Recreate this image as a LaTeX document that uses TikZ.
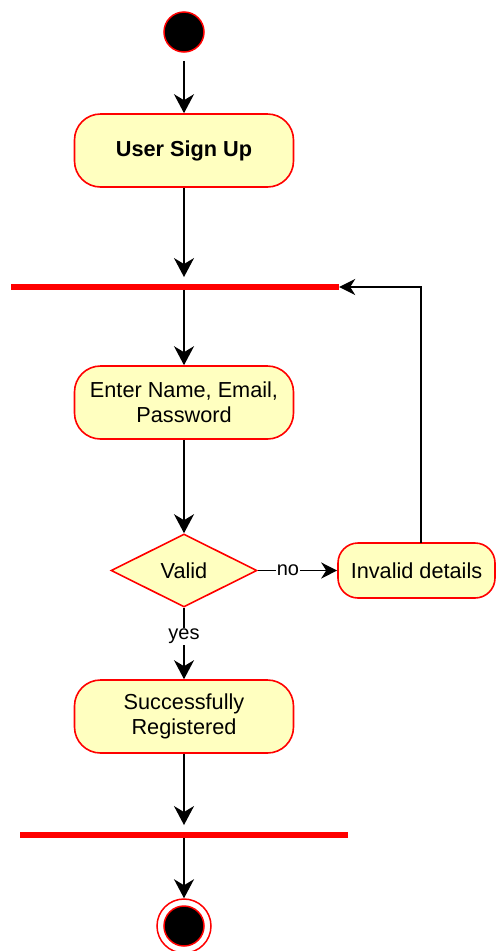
\documentclass[tikz,border=0pt]{standalone}
\usepackage{fontspec}
\setmainfont{Liberation Sans}
\usetikzlibrary{shapes.geometric,arrows.meta,calc}
\definecolor{actfill}{HTML}{FFFFC0}
\definecolor{actred}{HTML}{FF0000}
\begin{document}
\begin{tikzpicture}[x=1pt,y=-1pt,
  txt/.style={font=\fontsize{21.7}{25}\selectfont},
  action/.style={draw=actred, line width=1.6pt, fill=actfill, rounded corners=26pt,
    minimum width=219pt, minimum height=73pt, align=center, inner sep=0pt, txt},
  smallaction/.style={action, rounded corners=20pt, minimum width=157pt, minimum height=55pt},
  decision/.style={draw=actred, line width=1.6pt, fill=actfill, diamond, aspect=2,
    minimum width=146pt, minimum height=73pt, inner sep=0pt, txt},
  syncbar/.style={fill=actred, minimum width=328pt, minimum height=5.5pt, inner sep=0pt},
  flow/.style={draw=black, line width=2pt,
    -{Stealth[length=19pt, width=20pt, inset=6pt]}},
  thinflow/.style={draw=black, line width=1.6pt,
    -{Stealth[length=16pt, width=16pt, inset=5pt]}},
  guard/.style={fill=white, inner sep=1pt, font=\fontsize{20}{22}\selectfont}
]
\useasboundingbox (0,0) rectangle (496,951);

% start and end states
\node (start) [circle, draw=actred, line width=1.5pt, fill=black, minimum size=40pt, inner sep=0pt] at (184,32) {};
\node (endo) [circle, draw=actred, line width=1.5pt, fill=white, minimum size=54pt, inner sep=0pt] at (184,926) {};
\node (endi) [circle, draw=actred, line width=1.5pt, fill=black, minimum size=40pt, inner sep=0pt] at (184,926) {};

% activities
\node (signup) [action] at (184,150.5) {\bfseries User Sign Up};
\node (enter) [action] at (184,402.5) {Enter Name, Email,\\Password};
\node (valid) [decision] at (184,570.5) {Valid};
\node (invalid) [smallaction] at (416.5,570.5) {Invalid details};
\node (done) [action] at (184,716.5) {Successfully\\Registered};

% synchronisation bars
\node (bar1) [syncbar] at (175,287) {};
\node (bar2) [syncbar] at (184,835) {};

\coordinate (back) at (421,543);

% flows
\draw[flow, shorten <=8pt] (start.south) -- (signup.north);
\draw[flow, shorten >=7pt] (signup.south) -- (signup.south |- bar1.north);
\draw[flow] (enter.north |- bar1.south) -- (enter.north);
\draw[flow] (enter.south) -- (valid.north);
\draw[thinflow] (valid.east) -- node[guard, pos=0.38] {no} (invalid.west);
\draw[thinflow] (back) |- (bar1.east);
\draw[flow] (valid.south) -- node[guard, pos=0.4] {yes} (done.north);
\draw[flow, shorten >=7pt] (done.south) -- (done.south |- bar2.north);
\draw[flow] (endo.north |- bar2.south) -- (endo.north);
\end{tikzpicture}
\end{document}
